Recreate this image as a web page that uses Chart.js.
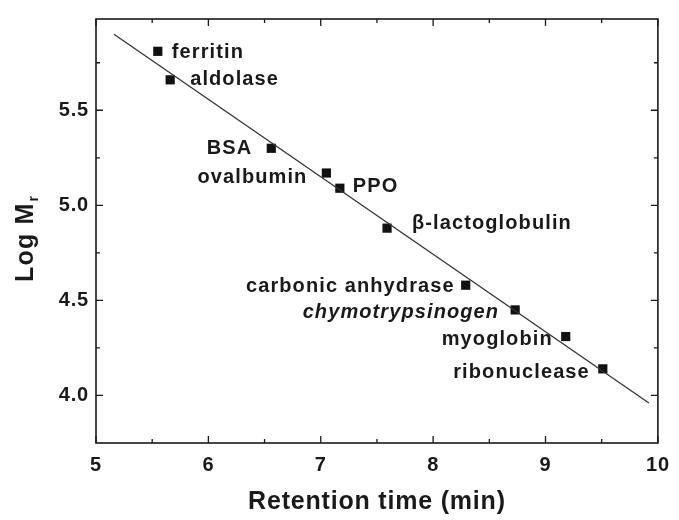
<!DOCTYPE html>
<html>
<head>
<meta charset="utf-8">
<script src="https://cdn.jsdelivr.net/npm/chart.js@4/dist/chart.umd.min.js"></script>
<style>
  html, body { margin: 0; padding: 0; background: #fff; }
  #wrap { width: 679px; height: 520px; }
</style>
</head>
<body>
<div id="wrap"><canvas id="c" width="679" height="520"></canvas></div>
<script>
// ---- data ----
const proteins = ['ferritin', 'aldolase', 'BSA', 'ovalbumin', 'PPO', 'β-lactoglobulin',
  'carbonic anhydrase', 'chymotrypsinogen', 'myoglobin', 'ribonuclease'];
const retentionTime = [5.55, 5.66, 6.56, 7.05, 7.17, 7.59, 8.29, 8.73, 9.18, 9.51];
const logMr = [5.81, 5.66, 5.30, 5.17, 5.09, 4.88, 4.58, 4.45, 4.31, 4.14];
const fitX = [5.16, 9.92];
const fitY = [5.90, 3.96];
const xTicks = [5, 6, 7, 8, 9, 10];
const yTicks = [4.0, 4.5, 5.0, 5.5];
const xMinorTicks = [5.5, 6.5, 7.5, 8.5, 9.5];
const yMinorTicks = [4.25, 4.75, 5.25, 5.75];

// ---- styles ----
const FONT = '"Liberation Sans", Arial, Helvetica, sans-serif';
const INK = '#1a1a1a';
const SPACING = '1.1px';
const labelPlacement = {
  'ferritin':           { dx: 14,  dy: 7,  align: 'left' },
  'aldolase':           { dx: 20,  dy: 5,  align: 'left' },
  'BSA':                { dx: -19, dy: 6,  align: 'right' },
  'ovalbumin':          { dx: -19, dy: 10, align: 'right' },
  'PPO':                { dx: 13,  dy: 4,  align: 'left' },
  'β-lactoglobulin':    { dx: 25,  dy: 1,  align: 'left' },
  'carbonic anhydrase': { dx: -11, dy: 7,  align: 'right' },
  'chymotrypsinogen':   { dx: -16, dy: 8,  align: 'right', italic: true },
  'myoglobin':          { dx: -13, dy: 8,  align: 'right' },
  'ribonuclease':       { dx: -13, dy: 9,  align: 'right' }
};

const framePlugin = {
  id: 'frame',
  beforeDraw(chart) {
    chart.ctx.letterSpacing = '0.8px';
  },
  afterDraw(chart) {
    const ctx = chart.ctx;
    const { left, right, top, bottom } = chart.chartArea;
    const xs = chart.scales.x, ys = chart.scales.y;
    ctx.save();
    ctx.strokeStyle = INK;
    ctx.lineWidth = 1.6;
    ctx.strokeRect(left, top, right - left, bottom - top);
    ctx.lineWidth = 1.3;
    ctx.beginPath();
    const major = 7, minor = 4;
    xTicks.forEach(v => {
      const p = xs.getPixelForValue(v);
      ctx.moveTo(p, bottom); ctx.lineTo(p, bottom - major);
      ctx.moveTo(p, top); ctx.lineTo(p, top + major);
    });
    xMinorTicks.forEach(v => {
      const p = xs.getPixelForValue(v);
      ctx.moveTo(p, bottom); ctx.lineTo(p, bottom - minor);
      ctx.moveTo(p, top); ctx.lineTo(p, top + minor);
    });
    yTicks.forEach(v => {
      const p = ys.getPixelForValue(v);
      ctx.moveTo(left, p); ctx.lineTo(left + major, p);
      ctx.moveTo(right, p); ctx.lineTo(right - major, p);
    });
    yMinorTicks.forEach(v => {
      const p = ys.getPixelForValue(v);
      ctx.moveTo(left, p); ctx.lineTo(left + minor, p);
      ctx.moveTo(right, p); ctx.lineTo(right - minor, p);
    });
    ctx.stroke();

    // point labels
    ctx.fillStyle = INK;
    ctx.textBaseline = 'alphabetic';
    ctx.letterSpacing = SPACING;
    proteins.forEach((name, i) => {
      const pl = labelPlacement[name];
      const px = xs.getPixelForValue(retentionTime[i]);
      const py = ys.getPixelForValue(logMr[i]);
      ctx.font = (pl.italic ? 'italic ' : '') + 'bold 20px ' + FONT;
      ctx.textAlign = pl.align;
      ctx.fillText(name, px + pl.dx, py + pl.dy);
    });

    // y-axis title with subscript
    ctx.translate(33, 282);
    ctx.rotate(-Math.PI / 2);
    ctx.textAlign = 'left';
    ctx.letterSpacing = '1.2px';
    ctx.font = 'bold 25px ' + FONT;
    ctx.fillText('Log M', 0, 0);
    const w = ctx.measureText('Log M').width;
    ctx.font = 'bold 14px ' + FONT;
    ctx.fillText('r', w + 1, 5);
    ctx.restore();
    ctx.letterSpacing = '0px';
  }
};

new Chart(document.getElementById('c'), {
  type: 'scatter',
  data: {
    datasets: [
      {
        label: 'fit',
        type: 'line',
        data: fitX.map((x, i) => ({ x, y: fitY[i] })),
        borderColor: '#333',
        borderWidth: 1.3,
        pointRadius: 0,
        fill: false,
        tension: 0
      },
      {
        label: 'standards',
        data: retentionTime.map((x, i) => ({ x, y: logMr[i] })),
        pointStyle: 'rect',
        pointRadius: 6.5,
        pointHoverRadius: 6.5,
        backgroundColor: '#111',
        borderColor: '#111',
        borderWidth: 0
      }
    ]
  },
  options: {
    responsive: false,
    animation: false,
    devicePixelRatio: 1,
    layout: { padding: { left: 0, top: 15, right: 17, bottom: 0 } },
    plugins: { legend: { display: false }, tooltip: { enabled: false } },
    scales: {
      x: {
        type: 'linear',
        min: 5, max: 10,
        afterBuildTicks: s => { s.ticks = xTicks.map(v => ({ value: v })); },
        afterFit: s => { s.height = 77; },
        grid: { display: false, drawTicks: false },
        border: { display: false },
        ticks: {
          padding: 10,
          color: INK,
          font: { family: FONT, size: 20, weight: 'bold' },
          callback: v => String(v)
        },
        title: {
          display: true,
          text: 'Retention time (min)',
          color: INK,
          font: { family: FONT, size: 25, weight: 'bold', lineHeight: 1 },
          padding: { top: 0, bottom: 5 }
        }
      },
      y: {
        type: 'linear',
        min: 3.75, max: 5.98,
        afterBuildTicks: s => { s.ticks = yTicks.map(v => ({ value: v })); },
        afterFit: s => { s.width = 96; },
        grid: { display: false, drawTicks: false },
        border: { display: false },
        ticks: {
          padding: 7,
          color: INK,
          font: { family: FONT, size: 20, weight: 'bold' },
          callback: v => v.toFixed(1)
        }
      }
    }
  },
  plugins: [framePlugin]
});
</script>
</body>
</html>
